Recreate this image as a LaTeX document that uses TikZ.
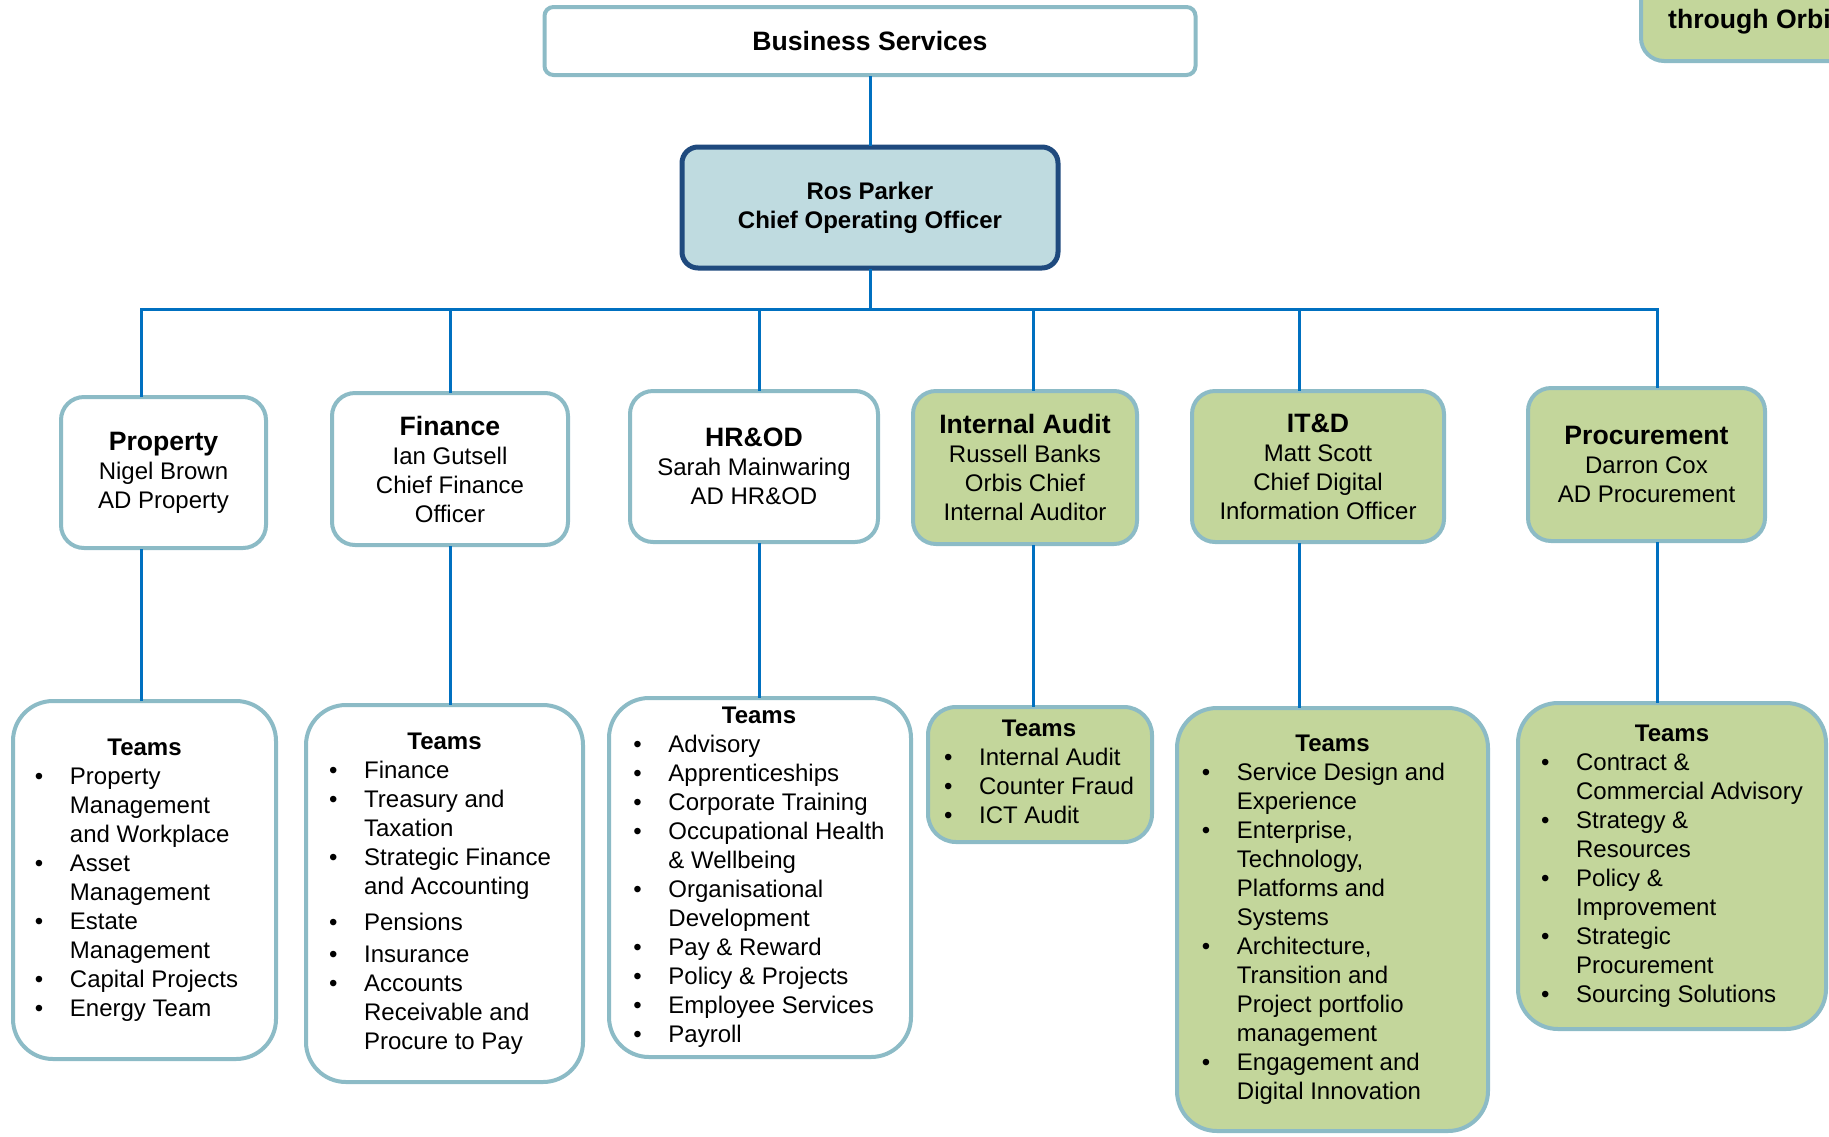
\documentclass[tikz,border=0pt]{standalone}
\usepackage{fontspec}
\setmainfont{Liberation Sans}

\definecolor{boxline}{HTML}{8CBBC6}
\definecolor{boxgreen}{HTML}{C3D69B}
\definecolor{cooblue}{HTML}{BFDBE0}
\definecolor{cooline}{HTML}{1F4A7E}
\definecolor{linkblue}{HTML}{0070C0}

\newcommand{\bl}{\textbullet}
\newcommand{\hdr}[1]{{\fontsize{26.6}{29}\selectfont\bfseries #1}}

\begin{document}
\begin{tikzpicture}[x=1pt, y=-1pt,
        every node/.style={font=\fontsize{24}{29}\selectfont},
        unit/.style={draw=boxline, line width=4pt, fill=white, rounded corners=23pt, align=center},
        orbisunit/.style={unit, fill=boxgreen},
        teams/.style={draw=boxline, line width=4pt, fill=white, rounded corners=40pt},
        orbisteams/.style={teams, fill=boxgreen},
        link/.style={draw=linkblue, line width=3pt, line cap=rect}
    ]
    \useasboundingbox (0,0) rectangle (1829,1136);

    % Cabecera
    \node[draw=boxline, line width=4pt, fill=white, rounded corners=9pt, minimum width=651, minimum height=68,
        font=\fontsize{26.6}{29}\selectfont\bfseries] (bs) at (870,41) {Business Services};
    \node[draw=cooline, line width=5pt, fill=cooblue, rounded corners=16pt, minimum width=376, minimum height=121,
        align=center, font=\fontsize{24}{29}\selectfont\bfseries] (coo) at (870,207.5) {Ros Parker\\Chief Operating Officer};
    \node[draw=boxline, line width=4pt, fill=boxgreen, rounded corners=23pt, anchor=south west,
        minimum width=260, minimum height=130] (orbis) at (1639,63) {};
    \node[anchor=west, inner sep=0pt, font=\fontsize{26.6}{29}\selectfont\bfseries] (orbistext) at (1668,21.5) {through Orbi};

    % Areas
    \node[unit, minimum width=205, minimum height=151] (prop) at (163.5,472.5) {\hdr{Property}\\Nigel Brown\\AD Property};
    \node[unit, minimum width=236, minimum height=152] (fin) at (450,469) {\hdr{Finance}\\Ian Gutsell\\Chief Finance\\Officer};
    \node[unit, minimum width=248, minimum height=151] (hr) at (754,466.5) {\hdr{HR\&OD}\\Sarah Mainwaring\\AD HR\&OD};
    \node[orbisunit, minimum width=224, minimum height=153] (ia) at (1025,467.5) {\hdr{Internal Audit}\\Russell Banks\\Orbis Chief\\Internal Auditor};
    \node[orbisunit, minimum width=252, minimum height=151] (itd) at (1318,466.5) {\hdr{IT\&D}\\Matt Scott\\Chief Digital\\Information Officer};
    \node[orbisunit, minimum width=237, minimum height=153] (proc) at (1646.5,464.5) {\hdr{Procurement}\\Darron Cox\\AD Procurement};

    % Equipos
    \node[teams, minimum width=263, minimum height=358] (teams-prop) at (144.5,880) {%
        \begin{tabular}{@{}p{35pt}@{}l@{}}
            \multicolumn{2}{c}{\hspace*{16pt}\textbf{Teams}}\\
            \bl & Property\\
                & Management\\
                & and Workplace\\
            \bl & Asset\\
                & Management\\
            \bl & Estate\\
                & Management\\
            \bl & Capital Projects\\
            \bl & Energy Team
        \end{tabular}\hspace*{16pt}};
    \node[teams, minimum width=277, minimum height=377] (teams-fin) at (444.5,893.5) {%
        \begin{tabular}{@{}p{35pt}@{}l@{}}
            \multicolumn{2}{c}{\hspace*{9pt}\textbf{Teams}}\\
            \bl & Finance\\
            \bl & Treasury and\\
                & Taxation\\
            \bl & Strategic Finance\\
                & and Accounting\\[7pt]
            \bl & Pensions\\[3pt]
            \bl & Insurance\\
            \bl & Accounts\\
                & Receivable and\\
                & Procure to Pay
        \end{tabular}\hspace*{9pt}};
    \node[teams, minimum width=302, minimum height=359] (teams-hr) at (760,877.5) {%
        \begin{tabular}{@{}p{35pt}@{}l@{}}
            \multicolumn{2}{c}{\textbf{Teams}}\\
            \bl & Advisory\\
            \bl & Apprenticeships\\
            \bl & Corporate Training\\
            \bl & Occupational Health\\
                & \& Wellbeing\\
            \bl & Organisational\\
                & Development\\
            \bl & Pay \& Reward\\
            \bl & Policy \& Projects\\
            \bl & Employee Services\\
            \bl & Payroll
        \end{tabular}\hspace*{2pt}};
    \node[orbisteams, rounded corners=28pt, minimum width=224, minimum height=135] (teams-ia) at (1040,774.5) {%
        \begin{tabular}{@{}p{35pt}@{}l@{}}
            \multicolumn{2}{c}{\textbf{Teams}}\\
            \bl & Internal Audit\\
            \bl & Counter Fraud\\
            \bl & ICT Audit
        \end{tabular}\hspace*{2pt}};
    \node[orbisteams, minimum width=311, minimum height=423] (teams-itd) at (1332.5,919.5) {%
        \begin{tabular}{@{}p{35pt}@{}l@{}}
            \multicolumn{2}{c}{\hspace*{18pt}\textbf{Teams}}\\
            \bl & Service Design and\\
                & Experience\\
            \bl & Enterprise,\\
                & Technology,\\
                & Platforms and\\
                & Systems\\
            \bl & Architecture,\\
                & Transition and\\
                & Project portfolio\\
                & management\\
            \bl & Engagement and\\
                & Digital Innovation
        \end{tabular}\hspace*{18pt}};
    \node[orbisteams, minimum width=308, minimum height=326] (teams-proc) at (1672,866) {%
        \begin{tabular}{@{}p{35pt}@{}l@{}}
            \multicolumn{2}{c}{\textbf{Teams}}\\
            \bl & Contract \&\\
                & Commercial Advisory\\
            \bl & Strategy \&\\
                & Resources\\
            \bl & Policy \&\\
                & Improvement\\
            \bl & Strategic\\
                & Procurement\\
            \bl & Sourcing Solutions
        \end{tabular}};

    % Lineas
    \coordinate (bus) at (870,309);
    \draw[link] (bs.south) -- (coo.north);
    \draw[link] (coo.south) -- (bus);
    \draw[link] ([xshift=-22]prop.north |- bus) -- ([xshift=11]proc.north |- bus);
    \foreach \dept/\dx in {prop/-22, fin/0, hr/5, ia/8, itd/-19, proc/11} {
        \draw[link] ([xshift=\dx]\dept.north) -- ([xshift=\dx]\dept.north |- bus);
        \draw[link] ([xshift=\dx]\dept.south) -- ([xshift=\dx]\dept.south |- teams-\dept.north);
    }
\end{tikzpicture}
\end{document}
